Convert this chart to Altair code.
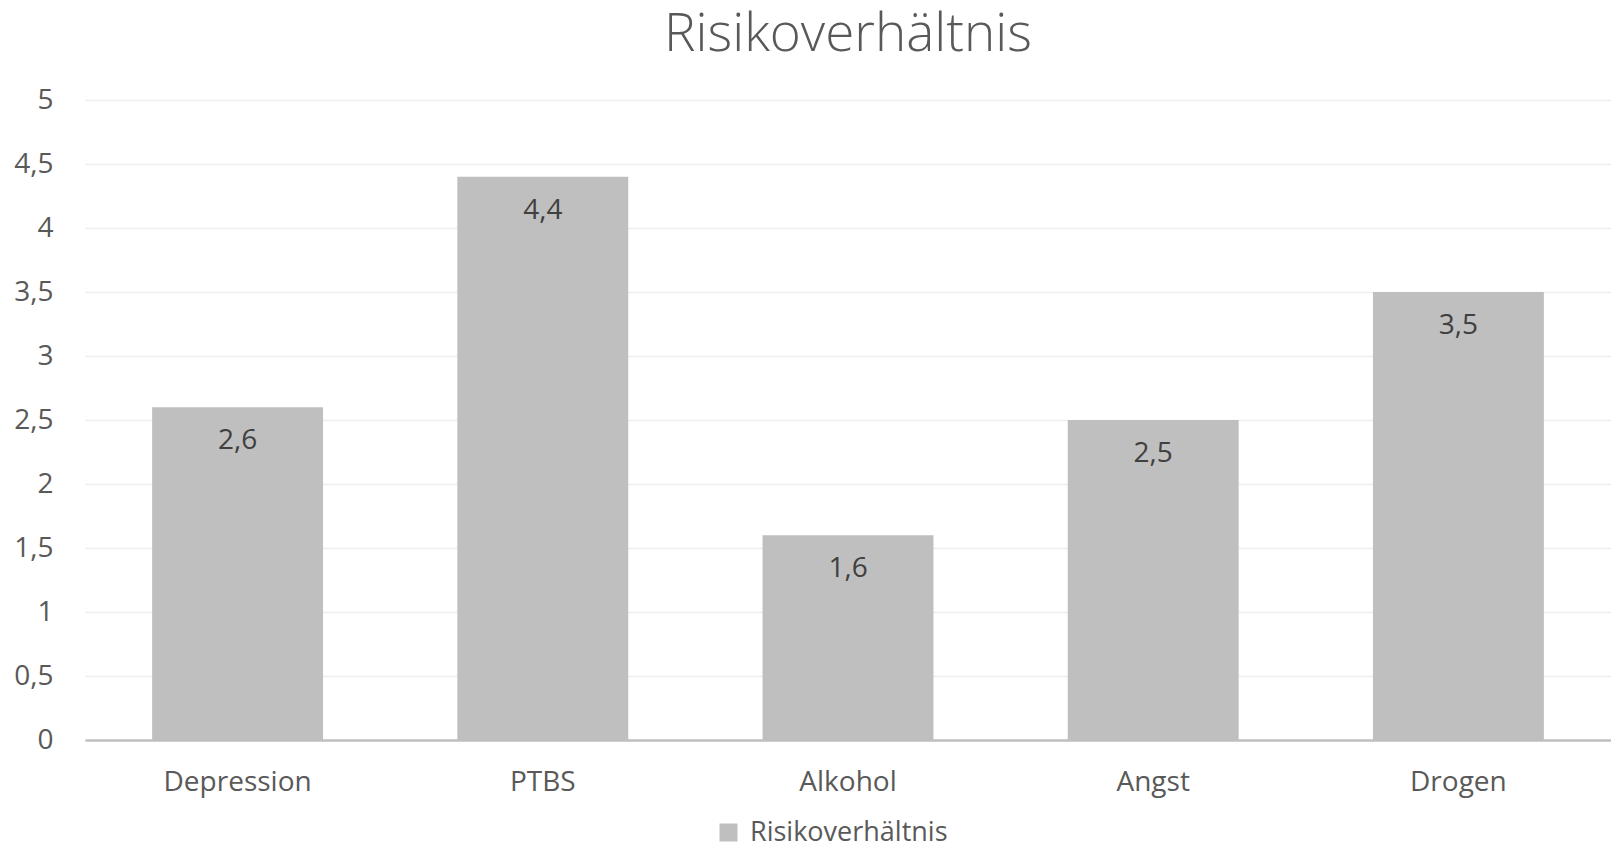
import altair as alt
import pandas as pd

categories = ["Depression", "PTBS", "Alkohol", "Angst", "Drogen"]
values = [2.6, 4.4, 1.6, 2.5, 3.5]
series_name = "Risikoverhältnis"
y_ticks = [0, 0.5, 1, 1.5, 2, 2.5, 3, 3.5, 4, 4.5, 5]

df = pd.DataFrame({"Kategorie": categories, "Wert": values, "Serie": [series_name] * len(categories)})

FONT = "Open Sans"
TXT = "#595959"

base = alt.Chart(df).encode(
    x=alt.X("Kategorie:N", sort=categories, title=None,
            scale=alt.Scale(paddingInner=0.44, paddingOuter=0.22),
            axis=alt.Axis(labelAngle=0, labelFont=FONT, labelFontSize=28, labelColor=TXT,
                          labelPadding=28, ticks=False, domainColor="#BFBFBF", domainWidth=2.5,
                          grid=False)),
)

bars = base.mark_bar(color="#BFBFBF").encode(
    y=alt.Y("Wert:Q", title=None,
            scale=alt.Scale(domain=[0, 5]),
            axis=alt.Axis(values=y_ticks,
                          labelExpr="replace(format(datum.value, '~g'), '.', ',')",
                          labelFont=FONT, labelFontSize=28, labelColor=TXT, labelPadding=32,
                          domain=False, ticks=False, gridColor="#EEEEEE", gridWidth=1.5)),
    color=alt.Color("Serie:N", scale=alt.Scale(range=["#BFBFBF"]), title=None,
                    legend=alt.Legend(orient="none", legendX=630, legendY=719, padding=0,
                                      symbolType="square", symbolSize=324, symbolStrokeWidth=0,
                                      labelFont=FONT, labelFontSize=27, labelColor=TXT,
                                      labelOffset=8, labelLimit=500)),
)

labels = base.transform_calculate(
    lab="replace(format(datum.Wert, '.1f'), '.', ',')"
).mark_text(font=FONT, fontSize=28, color="#404040", baseline="middle", dy=34).encode(
    y="Wert:Q",
    text="lab:N",
)

chart = alt.layer(bars, labels).properties(
    width=1526,
    height=640,
    autosize=alt.AutoSizeParams(type="none"),
    padding={"left": 77, "top": 92, "right": 0, "bottom": 109},
    title=alt.TitleParams(series_name, font=FONT, fontSize=53, fontWeight=300, color=TXT,
                          anchor="middle", offset=24, limit=1500),
).configure_view(stroke=None)

chart.save("out.html", embed_options={"renderer": "svg", "actions": False})
